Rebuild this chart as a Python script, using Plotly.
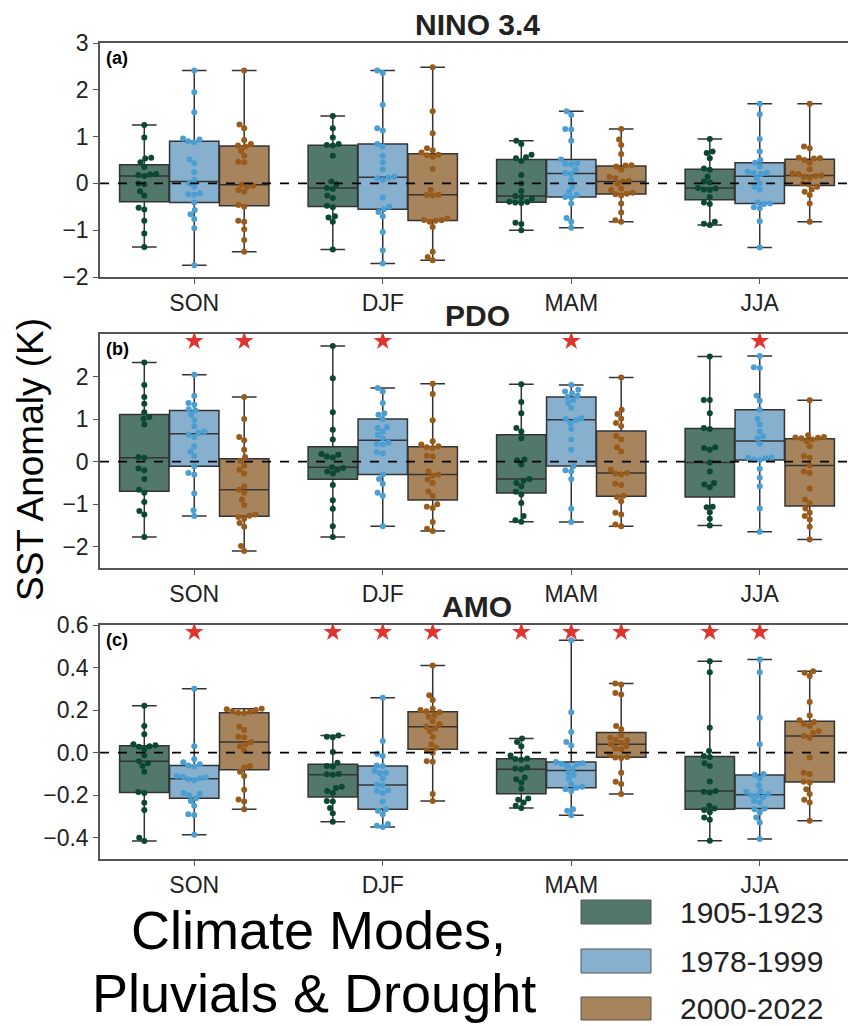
import numpy as np
import plotly.graph_objects as go

seasons = ["SON", "DJF", "MAM", "JJA"]
periods = ["1905-1923", "1978-1999", "2000-2022"]
panel_titles = ["NINO 3.4", "PDO", "AMO"]
panel_tags = ["(a)", "(b)", "(c)"]

# NINO 3.4 anomalies, one list per season (SON, DJF, MAM, JJA)
nino_1905 = [
    [1.25, 0.98, 0.55, 0.53, 0.45, 0.35, 0.2, 0.19, 0.18, 0.16, 0.0, -0.02, -0.17, -0.26, -0.52, -0.56, -0.8, -1.07, -1.36],
    [1.44, 1.18, 0.98, 0.84, 0.82, 0.81, 0.59, 0.04, -0.02, -0.1, -0.12, -0.26, -0.31, -0.48, -0.51, -0.7, -0.73, -0.82, -1.41],
    [0.91, 0.84, 0.61, 0.56, 0.54, 0.48, 0.18, 0.0, -0.16, -0.27, -0.29, -0.32, -0.39, -0.4, -0.41, -0.42, -0.84, -0.87, -1.0],
    [0.95, 0.68, 0.65, 0.54, 0.32, 0.29, 0.14, 0.04, 0.02, -0.1, -0.11, -0.13, -0.14, -0.29, -0.41, -0.44, -0.82, -0.86, -0.89],
]
nino_1978 = [
    [2.41, 1.95, 1.52, 0.96, 0.94, 0.9, 0.88, 0.51, 0.43, 0.24, 0.08, 0.0, -0.07, -0.21, -0.23, -0.24, -0.41, -0.57, -0.66, -0.76, -0.96, -1.75],
    [2.41, 2.36, 1.68, 1.18, 1.13, 0.84, 0.79, 0.59, 0.45, 0.3, 0.14, 0.12, 0.11, 0.07, -0.3, -0.5, -0.55, -0.61, -0.7, -1.04, -1.43, -1.71],
    [1.54, 1.46, 1.16, 1.15, 0.91, 0.51, 0.43, 0.42, 0.41, 0.29, 0.22, 0.2, 0.07, -0.07, -0.18, -0.25, -0.29, -0.3, -0.43, -0.74, -0.82, -0.95],
    [1.7, 1.48, 0.95, 0.68, 0.5, 0.44, 0.36, 0.25, 0.23, 0.22, 0.2, 0.11, 0.0, -0.07, -0.13, -0.41, -0.43, -0.44, -0.51, -0.53, -0.81, -1.37],
]
nino_2000 = [
    [2.41, 1.26, 1.18, 0.93, 0.84, 0.81, 0.79, 0.7, 0.59, 0.46, 0.45, -0.03, -0.05, -0.07, -0.14, -0.18, -0.46, -0.5, -0.8, -0.82, -0.98, -1.21, -1.46],
    [2.48, 1.54, 1.07, 0.75, 0.71, 0.66, 0.61, 0.6, 0.57, 0.31, -0.14, -0.24, -0.25, -0.26, -0.75, -0.78, -0.79, -0.8, -0.82, -0.93, -1.46, -1.57, -1.64],
    [1.16, 0.94, 0.82, 0.63, 0.39, 0.38, 0.36, 0.29, 0.14, 0.11, 0.05, 0.04, -0.01, -0.11, -0.14, -0.2, -0.22, -0.23, -0.26, -0.43, -0.62, -0.79, -0.82],
    [1.7, 0.79, 0.75, 0.55, 0.54, 0.53, 0.5, 0.44, 0.3, 0.21, 0.2, 0.17, 0.16, 0.14, 0.12, 0.0, -0.02, -0.07, -0.13, -0.18, -0.25, -0.43, -0.82],
]

# PDO
pdo_1905 = [
    [2.33, 1.8, 1.52, 1.36, 1.16, 1.05, 1.01, 0.87, 0.11, 0.09, -0.16, -0.2, -0.41, -0.66, -0.73, -0.95, -1.16, -1.24, -1.77],
    [2.72, 1.96, 1.16, 0.75, 0.52, 0.18, 0.16, 0.12, 0.1, -0.13, -0.15, -0.19, -0.23, -0.28, -0.55, -0.91, -1.11, -1.52, -1.77],
    [1.82, 1.4, 1.14, 0.79, 0.71, 0.55, 0.05, 0.03, -0.07, -0.41, -0.45, -0.5, -0.58, -0.71, -0.77, -0.97, -1.28, -1.38, -1.41],
    [2.47, 1.45, 1.45, 1.14, 0.79, 0.77, 0.34, 0.32, 0.28, -0.02, -0.23, -0.5, -0.54, -0.6, -1.06, -1.07, -1.19, -1.34, -1.5],
]
pdo_1978 = [
    [2.04, 1.55, 1.38, 1.34, 1.23, 1.2, 1.1, 0.98, 0.83, 0.71, 0.68, 0.63, 0.58, 0.36, 0.24, 0.13, -0.11, -0.27, -0.3, -0.75, -1.14, -1.28],
    [1.73, 1.65, 1.38, 1.14, 1.1, 1.0, 0.81, 0.79, 0.71, 0.63, 0.55, 0.45, 0.42, 0.4, 0.22, 0.2, -0.3, -0.41, -0.52, -0.73, -0.8, -1.52],
    [1.8, 1.69, 1.65, 1.61, 1.55, 1.52, 1.45, 1.38, 1.26, 1.02, 1.0, 0.97, 0.91, 0.77, 0.52, 0.28, -0.1, -0.2, -0.23, -0.41, -1.11, -1.42],
    [2.48, 2.22, 2.2, 1.55, 1.43, 1.22, 1.0, 0.87, 0.71, 0.59, 0.55, 0.42, 0.1, 0.09, 0.08, 0.05, 0.04, -0.17, -0.38, -0.58, -1.1, -1.65],
]
pdo_2000 = [
    [1.52, 1.0, 0.58, 0.5, 0.28, 0.11, 0.02, -0.09, -0.19, -0.28, -0.58, -0.66, -0.73, -0.89, -1.02, -1.24, -1.27, -1.3, -1.34, -1.44, -1.53, -1.98, -2.1],
    [1.83, 1.59, 0.97, 0.48, 0.4, 0.36, 0.34, 0.32, 0.14, 0.12, -0.23, -0.3, -0.33, -0.42, -0.5, -0.7, -0.8, -1.0, -1.06, -1.09, -1.42, -1.58, -1.63],
    [1.98, 1.22, 1.12, 1.01, 0.91, 0.84, 0.6, 0.52, 0.34, 0.24, -0.19, -0.27, -0.28, -0.3, -0.52, -0.55, -0.8, -0.83, -0.93, -1.2, -1.24, -1.48, -1.52],
    [1.44, 0.62, 0.58, 0.57, 0.56, 0.55, 0.52, 0.48, 0.36, 0.13, 0.09, -0.09, -0.23, -0.27, -0.63, -0.89, -0.98, -1.1, -1.2, -1.28, -1.36, -1.53, -1.83],
]

# AMO
amo_1905 = [
    [0.22, 0.125, 0.086, 0.04, 0.035, 0.03, 0.028, 0.016, -0.013, -0.04, -0.05, -0.063, -0.09, -0.185, -0.19, -0.235, -0.27, -0.4, -0.415],
    [0.081, 0.075, 0.072, 0.003, -0.047, -0.063, -0.065, -0.1, -0.102, -0.104, -0.16, -0.166, -0.18, -0.19, -0.227, -0.23, -0.26, -0.285, -0.325],
    [0.066, 0.05, 0.03, -0.013, -0.028, -0.03, -0.033, -0.07, -0.075, -0.078, -0.117, -0.125, -0.14, -0.17, -0.216, -0.222, -0.234, -0.25, -0.26],
    [0.43, 0.378, 0.117, 0.008, -0.016, -0.02, -0.05, -0.063, -0.136, -0.18, -0.184, -0.187, -0.25, -0.263, -0.27, -0.28, -0.305, -0.316, -0.414],
]
amo_1978 = [
    [0.3, 0.03, -0.03, -0.045, -0.055, -0.06, -0.065, -0.11, -0.113, -0.117, -0.12, -0.125, -0.13, -0.19, -0.193, -0.2, -0.215, -0.227, -0.25, -0.29, -0.293, -0.386],
    [0.258, 0.055, -0.005, -0.016, -0.06, -0.063, -0.086, -0.094, -0.097, -0.122, -0.15, -0.155, -0.177, -0.18, -0.19, -0.23, -0.266, -0.273, -0.29, -0.336, -0.344, -0.35],
    [0.528, 0.19, 0.097, 0.05, 0.034, -0.044, -0.05, -0.052, -0.055, -0.063, -0.075, -0.094, -0.105, -0.122, -0.148, -0.16, -0.165, -0.172, -0.18, -0.266, -0.273, -0.294],
    [0.438, 0.378, 0.164, 0.04, -0.1, -0.105, -0.122, -0.153, -0.18, -0.184, -0.195, -0.2, -0.203, -0.21, -0.227, -0.234, -0.263, -0.266, -0.28, -0.305, -0.328, -0.406],
]
amo_2000 = [
    [0.206, 0.204, 0.2, 0.195, 0.192, 0.188, 0.186, 0.122, 0.106, 0.075, 0.072, 0.05, 0.04, 0.03, 0.01, -0.063, -0.07, -0.09, -0.11, -0.175, -0.22, -0.23, -0.266],
    [0.41, 0.27, 0.247, 0.206, 0.2, 0.195, 0.19, 0.175, 0.169, 0.148, 0.133, 0.122, 0.113, 0.1, 0.075, 0.04, 0.023, 0.01, 0.0, -0.04, -0.043, -0.195, -0.227],
    [0.325, 0.32, 0.28, 0.273, 0.125, 0.11, 0.08, 0.07, 0.06, 0.058, 0.047, 0.04, 0.03, 0.019, 0.016, -0.01, -0.02, -0.023, -0.025, -0.094, -0.137, -0.148, -0.195],
    [0.383, 0.375, 0.36, 0.238, 0.175, 0.152, 0.144, 0.133, 0.125, 0.1, 0.094, 0.078, 0.07, -0.023, -0.094, -0.1, -0.137, -0.14, -0.172, -0.195, -0.222, -0.234, -0.32],
]

# significance stars: per season, flags for the three periods
nino_sig = [[0, 0, 0], [0, 0, 0], [0, 0, 0], [0, 0, 0]]
pdo_sig = [[0, 1, 1], [0, 1, 0], [0, 1, 0], [0, 1, 0]]
amo_sig = [[0, 1, 0], [1, 1, 1], [1, 1, 1], [1, 1, 0]]

y_ranges = [[-2, 3], [-2.5, 3], [-0.5, 0.6]]
y_ticks = [[-2, -1, 0, 1, 2, 3], [-2, -1, 0, 1, 2], [-0.4, -0.2, 0.0, 0.2, 0.4, 0.6]]

box_fill = ["#52776b", "#86b0cd", "#a7845c"]
dot_color = ["#0b4733", "#4a9ed2", "#985b1b"]
star_color = "#e0342f"

# the page body keeps its 8px default margin, so the figure is drawn 8px in
PAD = 8
W, H = 856 - PAD, 1026 - PAD
FONT = "Liberation Sans, Arial, sans-serif"


def px(x):
    return (x - PAD) / W


def py(y):
    return 1 - (y - PAD) / H


x_dom = [px(100), px(854)]
# panel tops / bottoms in window pixels
panel_px = [(43, 277), (334, 568), (625, 859)]

ppx = (854 - 100) / 4.0
offsets = [-0.265, 0.0, 0.265]
box_w = 0.262


def swarm(vals, ppy, d=6.0):
    vals = np.asarray(vals, float)
    ys = vals * ppy
    xs = np.zeros(len(vals))
    placed = []
    for i in np.argsort(vals):
        y = ys[i]
        near = [(xs[j], ys[j]) for j in placed if abs(ys[j] - y) < d]
        cands = [0.0]
        for nx, ny in near:
            dx = np.sqrt(d * d - (ny - y) ** 2)
            cands += [nx - dx, nx + dx]
        cands.sort(key=abs)
        for c in cands:
            if all((c - nx) ** 2 + (y - ny) ** 2 >= d * d - 1e-6 for nx, ny in near):
                xs[i] = c
                break
        placed.append(i)
    return xs


panels = [
    [nino_1905, nino_1978, nino_2000],
    [pdo_1905, pdo_1978, pdo_2000],
    [amo_1905, amo_1978, amo_2000],
]
sigs = [nino_sig, pdo_sig, amo_sig]

fig = go.Figure()
layout_axes = {}
shapes = []
annotations = []

for p in range(3):
    sfx = "" if p == 0 else str(p + 1)
    xa, ya = "x" + sfx, "y" + sfx
    top, bot = panel_px[p]
    ylo, yhi = y_ranges[p]
    ppy = (bot - top) / (yhi - ylo)

    for j in range(3):
        for s in range(4):
            vals = panels[p][j][s]
            c = s + offsets[j]
            fig.add_trace(go.Box(
                x=[c] * len(vals), y=vals, width=box_w,
                boxpoints=False, quartilemethod="inclusive",
                fillcolor=box_fill[j], line=dict(color="#333333", width=1.5),
                whiskerwidth=0.5, xaxis=xa, yaxis=ya, hoverinfo="skip",
            ))

    shapes.append(dict(type="line", xref=xa + " domain", yref=ya, x0=0, x1=1, y0=0, y1=0,
                       line=dict(color="black", width=1.6, dash="dash")))

    for j in range(3):
        xs, ys = [], []
        for s in range(4):
            vals = panels[p][j][s]
            off = swarm(vals, ppy)
            xs += list(s + offsets[j] + off / ppx)
            ys += list(vals)
        fig.add_trace(go.Scatter(x=xs, y=ys, mode="markers", xaxis=xa, yaxis=ya,
                                 marker=dict(size=6, color=dot_color[j]), hoverinfo="skip"))

    star_y = yhi - 0.03 * (yhi - ylo)
    sx = [s + offsets[j] for s in range(4) for j in range(3) if sigs[p][s][j]]
    if sx:
        fig.add_trace(go.Scatter(x=sx, y=[star_y] * len(sx), mode="markers", xaxis=xa, yaxis=ya,
                                 marker=dict(symbol="star", size=14, color=star_color, line=dict(width=0)),
                                 hoverinfo="skip"))

    dom = [py(bot), py(top)]
    layout_axes["xaxis" + sfx] = dict(
        domain=x_dom, range=[-0.5, 3.5], anchor=ya, tickvals=[0, 1, 2, 3], ticktext=seasons,
        showline=True, mirror=True, linecolor="#555555", linewidth=1.5, ticks="outside",
        ticklen=5, tickcolor="#555555", showgrid=False, zeroline=False, automargin=False,
        tickfont=dict(size=23, color="#222222", family=FONT),
    )
    layout_axes["yaxis" + sfx] = dict(
        domain=dom, range=y_ranges[p], anchor=xa, tickvals=y_ticks[p],
        tickformat=".1f" if p == 2 else "d",
        showline=True, mirror=True, linecolor="#555555", linewidth=1.5, ticks="outside",
        ticklen=5, tickcolor="#555555", showgrid=False, zeroline=False, automargin=False,
        tickfont=dict(size=23, color="#222222", family=FONT),
    )
    annotations.append(dict(text="<b>" + panel_titles[p] + "</b>", xref="paper", yref="paper",
                            x=(x_dom[0] + x_dom[1]) / 2, y=py(top - 19), xanchor="center", yanchor="middle",
                            showarrow=False, font=dict(size=30, color="#222222", family=FONT)))
    annotations.append(dict(text="<b>" + panel_tags[p] + "</b>", xref="paper", yref="paper",
                            x=px(104), y=py(top + 3), xanchor="left", yanchor="top",
                            showarrow=False, font=dict(size=18, color="black", family=FONT)))

annotations.append(dict(text="SST Anomaly (K)", xref="paper", yref="paper", x=px(30), y=py(460),
                        textangle=-90, xanchor="center", yanchor="middle", showarrow=False,
                        font=dict(size=37, color="black", family=FONT)))
annotations.append(dict(text="Climate Modes,", xref="paper", yref="paper", x=px(318), y=py(930),
                        xanchor="center", yanchor="middle", showarrow=False,
                        font=dict(size=54, color="black", family=FONT)))
annotations.append(dict(text="Pluvials & Drought", xref="paper", yref="paper", x=px(314), y=py(993),
                        xanchor="center", yanchor="middle", showarrow=False,
                        font=dict(size=54, color="black", family=FONT)))

leg_y = [(900, 924), (949, 973), (997, 1020)]
for j in range(3):
    y0, y1 = leg_y[j]
    shapes.append(dict(type="rect", xref="paper", yref="paper", x0=px(581), x1=px(651),
                       y0=py(y1), y1=py(y0), fillcolor=box_fill[j],
                       line=dict(color="#555555", width=1)))
    annotations.append(dict(text=periods[j], xref="paper", yref="paper", x=px(678), y=py((y0 + y1) / 2),
                            xanchor="left", yanchor="middle", showarrow=False,
                            font=dict(size=30, color="#222222", family=FONT)))

fig.update_layout(
    width=W, height=H, margin=dict(l=0, r=0, t=0, b=0, autoexpand=False),
    paper_bgcolor="white", plot_bgcolor="white", showlegend=False,
    shapes=shapes, annotations=annotations, font=dict(family=FONT),
    **layout_axes,
)

fig.write_html("out.html")
